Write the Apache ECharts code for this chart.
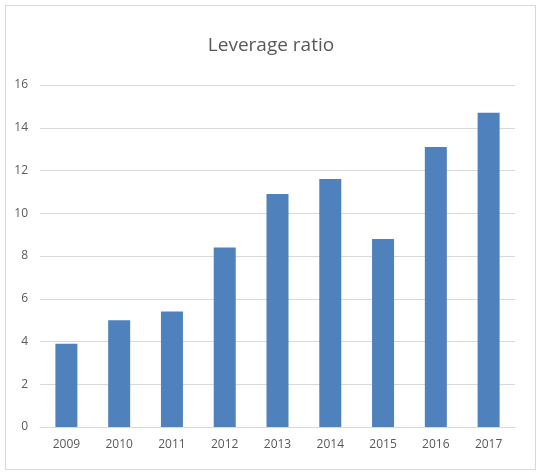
<!DOCTYPE html>
<html>
<head>
<meta charset="utf-8">
<script src="https://cdn.jsdelivr.net/npm/echarts@6/dist/echarts.min.js"></script>
<style>
  html, body { margin: 0; padding: 0; background: #fff; }
  #frame {
    position: absolute; left: 5px; top: 5px; width: 531px; height: 465px;
    border: 1px solid #d9d9d9; box-sizing: border-box;
  }
  #chart { position: absolute; left: 0; top: 0; width: 542px; height: 476px; }
</style>
</head>
<body>
<div id="frame"></div>
<div id="chart"></div>
<script>
const years = ["2009", "2010", "2011", "2012", "2013", "2014", "2015", "2016", "2017"];
const leverage = [3.9, 5.0, 5.4, 8.4, 10.9, 11.6, 8.8, 13.1, 14.7];

const chart = echarts.init(document.getElementById("chart"));
const font = "'Open Sans', 'Noto Sans', sans-serif";

chart.setOption({
  animation: false,
  title: {
    text: "Leverage ratio",
    left: 266,
    textAlign: "center",
    top: 31,
    textStyle: { color: "#595959", fontSize: 19, fontWeight: "normal", fontFamily: font }
  },
  grid: { left: 40, right: 27, top: 85, bottom: 49, containLabel: false },
  xAxis: {
    type: "category",
    data: years,
    axisLine: { lineStyle: { color: "#d9d9d9" } },
    axisTick: { show: false },
    axisLabel: { color: "#595959", fontSize: 12, fontFamily: font, margin: 12 }
  },
  yAxis: {
    type: "value",
    min: 0,
    max: 16,
    interval: 2,
    axisLine: { show: false },
    axisTick: { show: false },
    splitLine: { lineStyle: { color: "#d9d9d9" } },
    axisLabel: { color: "#595959", fontSize: 12, fontFamily: font, margin: 12 }
  },
  series: [{
    type: "bar",
    data: leverage,
    barWidth: 22,
    itemStyle: { color: "#4f81bd" }
  }]
});
</script>
</body>
</html>
